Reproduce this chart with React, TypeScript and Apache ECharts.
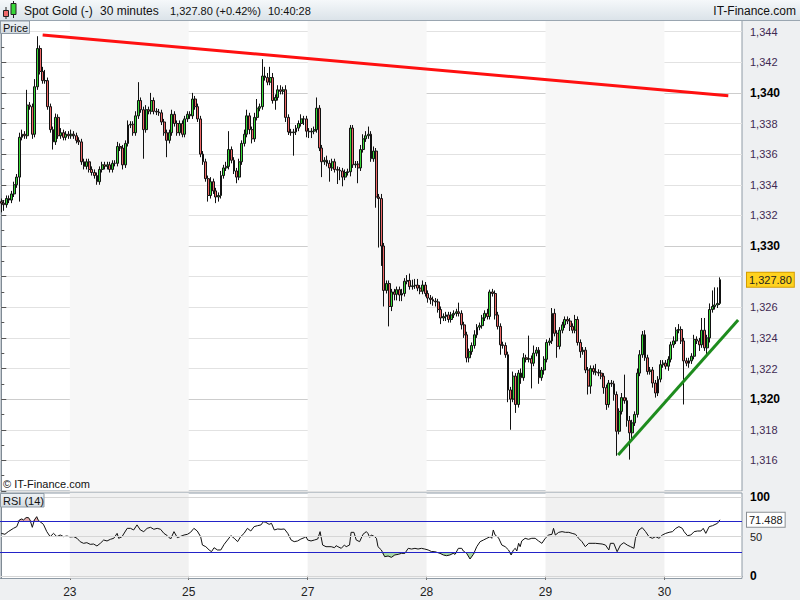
import React, { useEffect, useRef } from 'react';
import * as echarts from 'echarts';

// ---- price data (30-minute candles) ----
const firstOpen = 1332.9;
const closes = [
  1332.8,1332.7,1333.1,1333.0,1333.4,1334.0,1334.5,1337.1,1337.3,1337.2,
  1339.2,1339.1,1337.3,1340.4,1342.9,1341.4,1340.8,1340.8,1339.1,1337.6,
  1336.8,1338.4,1337.2,1337.4,1337.1,1337.3,1337.2,1337.3,1337.2,1336.9,
  1336.8,1335.5,1335.2,1335.5,1335.0,1334.8,1334.6,1334.2,1335.0,1335.3,
  1335.2,1335.3,1335.0,1335.4,1335.4,1336.5,1336.4,1335.3,1336.7,1337.9,
  1337.95,1337.4,1338.5,1339.5,1338.9,1337.6,1338.9,1338.8,1339.5,1338.8,
  1338.75,1338.7,1338.1,1337.4,1336.9,1337.4,1338.6,1338.0,1337.4,1338.0,
  1337.3,1338.3,1338.6,1338.5,1339.6,1339.1,1338.3,1336.0,1335.5,1334.4,
  1333.3,1334.2,1333.6,1333.2,1333.3,1334.6,1335.1,1335.2,1336.3,1335.6,
  1334.9,1334.5,1335.5,1336.7,1337.3,1338.5,1337.6,1337.0,1338.4,1339.0,
  1339.1,1341.1,1341.0,1340.7,1341.0,1339.5,1339.7,1340.2,1340.1,1340.2,
  1338.4,1337.45,1337.4,1337.45,1337.7,1338.0,1338.3,1338.3,1337.5,1337.45,
  1337.5,1337.6,1339.0,1336.4,1335.5,1335.6,1335.4,1335.1,1335.5,1335.0,
  1334.95,1334.9,1334.5,1334.8,1334.85,1337.7,1335.3,1335.35,1335.1,1336.3,
  1337.0,1337.2,1337.3,1335.7,1336.2,1333.2,1333.1,1330.0,1327.1,1327.55,
  1326.05,1327.0,1326.85,1327.15,1326.8,1326.9,1327.7,1327.75,1327.35,1327.4,
  1327.45,1327.25,1327.05,1327.45,1326.9,1326.6,1326.5,1326.4,1326.35,1325.85,
  1325.3,1325.4,1325.5,1325.2,1325.5,1325.6,1325.7,1325.6,1324.85,1324.2,
  1322.7,1323.1,1323.5,1324.2,1324.7,1324.8,1325.3,1325.6,1325.4,1327.0,
  1326.9,1325.5,1324.75,1323.55,1323.5,1322.9,1320.6,1320.0,1321.5,1319.65,
  1321.7,1321.4,1322.7,1322.6,1322.65,1322.35,1323.0,1323.2,1321.4,1321.9,
  1322.6,1323.7,1323.8,1325.6,1324.3,1323.45,1324.5,1324.85,1325.2,1325.1,
  1324.75,1324.5,1325.2,1323.7,1323.1,1323.2,1321.9,1320.85,1322.0,1321.8,
  1321.75,1321.7,1321.5,1320.75,1319.65,1321.05,1321.0,1320.3,1317.9,1319.2,
  1320.1,1319.9,1318.6,1317.8,1318.45,1319.0,1321.7,1322.9,1324.2,1322.7,
  1321.8,1321.9,1321.05,1320.4,1321.3,1322.25,1322.35,1322.15,1322.6,1323.55,
  1323.8,1324.5,1324.55,1323.8,1322.5,1322.35,1322.5,1322.8,1323.9,1323.8,
  1323.55,1324.5,1323.35,1324.0,1325.85,1326.05,1326.15,1326.25,1327.8,
];
// wick lengths above / below the body (in dollars)
const upperWick = [
  0.2,0.2,0.2,0.2,0.2,0.2,0.2,0.3,0.3,0.2,
  1.0,0.2,0.2,0.5,0.8,0.2,0.3,0.7,0.2,0.2,
  0.2,0.25,0.2,0.3,0.2,0.2,0.2,0.3,0.2,0.2,
  0.2,0.2,0.2,0.2,0.2,0.2,0.2,0.2,0.2,0.2,
  0.2,0.2,0.2,0.2,0.2,0.3,0.2,0.2,0.2,0.3,
  0.2,0.2,0.3,1.2,0.2,0.2,0.3,0.2,0.5,0.2,
  0.2,0.2,0.2,0.2,0.2,0.2,0.3,0.2,0.2,0.2,
  0.2,0.2,0.2,0.2,0.4,0.2,0.2,0.2,0.2,0.2,
  0.2,0.3,0.2,0.2,0.2,0.3,0.2,0.3,1.2,0.2,
  0.2,0.2,0.2,0.2,0.3,0.4,0.2,0.2,0.3,0.6,
  0.2,1.1,0.6,0.3,0.7,0.3,0.2,0.3,0.3,0.2,
  0.3,0.2,0.2,0.2,0.2,0.2,0.3,0.2,0.2,0.2,
  0.2,0.2,0.7,0.2,0.2,0.2,0.3,0.2,0.2,0.2,
  0.2,0.2,0.2,0.2,0.2,0.2,0.2,0.2,0.2,0.3,
  0.3,0.3,0.5,0.2,0.3,0.2,0.2,0.3,0.2,0.2,
  0.2,0.2,0.2,0.2,0.2,0.3,0.2,0.35,0.45,0.4,
  0.4,0.4,0.2,0.3,0.2,0.2,0.2,0.2,0.2,0.2,
  0.2,0.2,0.2,0.2,0.2,0.2,0.2,0.6,0.2,0.2,
  0.2,0.2,0.2,0.3,0.2,0.2,0.2,0.2,0.3,0.15,
  0.2,0.2,0.2,0.2,0.2,0.2,0.2,0.2,0.3,0.2,
  0.2,0.3,0.3,0.2,1.5,0.2,0.5,0.2,0.2,0.2,
  0.2,0.2,0.2,0.35,0.3,0.2,0.2,0.2,0.2,0.2,
  0.2,0.2,0.3,0.2,0.2,0.2,0.2,0.2,0.2,0.2,
  0.5,0.2,0.2,0.2,0.2,0.2,0.2,0.2,0.2,0.2,
  0.3,1.5,0.2,0.3,0.2,0.2,0.3,0.3,0.25,0.3,
  0.2,0.2,0.2,0.2,0.2,0.3,0.2,0.2,0.2,0.2,
  0.3,0.2,0.35,0.2,0.2,0.2,0.2,0.2,0.3,0.2,
  0.2,0.8,0.8,0.2,0.4,1.05,1.15,1.05,0.15,
];
const lowerWick = [
  0.6,0.4,0.2,0.2,0.2,0.2,0.2,1.6,0.2,0.2,
  0.2,0.2,0.3,0.2,0.2,0.2,0.2,0.2,0.2,0.2,
  0.5,0.2,0.2,0.2,0.2,0.2,0.2,0.2,0.2,0.2,
  0.2,0.2,0.2,0.2,0.2,0.2,0.2,0.2,0.2,0.2,
  0.2,0.2,0.2,0.2,0.2,0.2,0.2,0.3,0.2,0.2,
  0.2,0.2,0.2,0.2,0.2,1.9,0.2,0.2,0.2,0.2,
  0.2,0.2,0.2,0.2,1.1,0.2,0.2,0.2,0.2,0.2,
  0.2,0.2,0.2,0.2,0.2,0.2,0.2,0.2,0.2,0.2,
  0.4,0.2,0.2,0.4,0.3,0.2,0.2,0.2,0.2,0.2,
  0.2,0.4,0.2,0.2,0.2,0.2,0.3,0.3,0.2,0.2,
  0.2,0.2,0.2,0.2,0.2,0.2,0.6,0.2,0.2,0.2,
  0.3,0.2,0.2,1.5,0.2,0.2,0.2,0.4,0.4,0.4,
  0.4,0.2,0.2,0.2,1.0,0.2,0.2,0.9,0.2,0.2,
  0.9,0.6,0.6,0.2,0.2,0.3,0.2,0.2,1.0,0.2,
  0.2,0.2,0.2,0.2,0.2,0.7,3.2,1.3,1.05,0.2,
  1.3,0.3,0.4,0.4,0.4,0.4,0.2,0.2,0.2,0.2,
  0.2,0.2,0.2,0.2,0.2,0.3,0.3,0.3,0.3,0.2,
  0.4,0.2,0.3,0.2,0.2,0.2,0.2,0.2,0.3,0.2,
  0.3,0.3,0.2,0.2,0.2,0.2,0.2,0.2,0.2,0.2,
  0.2,0.3,0.2,0.65,0.2,0.2,0.8,2.0,0.2,0.55,
  0.2,0.4,0.2,0.2,0.2,1.65,0.2,0.2,0.4,0.2,
  0.3,0.2,0.2,0.2,0.2,0.75,0.2,0.2,0.2,0.2,
  0.3,0.2,0.2,0.2,0.4,0.2,0.2,0.55,0.5,0.2,
  0.2,0.2,0.2,0.4,0.35,0.2,0.2,0.4,1.6,0.2,
  0.2,0.2,0.4,1.75,0.5,0.2,0.2,0.2,0.2,0.2,
  0.2,0.2,0.3,0.3,0.2,0.2,0.2,0.2,0.3,0.2,
  0.2,0.2,0.2,0.2,2.85,0.2,0.3,0.2,0.2,0.2,
  0.4,0.2,0.2,0.45,0.3,0.2,0.2,0.2,0.1,
];

// ---- RSI (14): candle position, value ----
const rsiAt = [
  0,1.4,2.7,4.7,6,7,7.9,8.6,9.6,10.5,
  11.1,12,12.8,13.7,14.4,15,16.3,17.6,18.9,20.2,
  21.5,22.8,24.1,25.4,26.7,28,29.3,30.5,31.8,33.1,
  34.4,35.7,37,38.3,39.6,40.9,42.2,43.5,44.8,45.4,
  46.7,48.7,50,51.2,52.5,53.8,55.1,56.4,57.7,59,
  60.3,61.6,62.9,64.2,65.5,66.8,68.1,69.4,70.7,72,
  73.2,74.5,75.8,77.1,77.8,79.1,80.4,81.3,82.3,83.6,
  84.9,86.2,87.5,88.8,90.1,91.4,92.6,93.9,95.2,96.5,
  97.8,99.1,100.4,101.4,102.3,103.6,104.5,105.6,106.9,108.2,
  109.5,110.8,112.1,113.3,114.6,115.9,117.2,117.9,118.5,119.8,
  121.1,122.4,123.3,124.3,125.6,127.6,128.9,129.5,130.2,131.5,
  132.7,133.4,134.7,135.3,136.4,137.3,138.6,139.9,141.2,141.8,
  142.5,143.1,144.4,145.1,145.7,147,148.3,149.6,150.9,152.2,
  153.5,154.8,156.1,157.4,158.7,160,161.2,162.5,163.8,165.1,
  166.4,167.7,169.7,171,172.2,173.5,174.8,175.5,176.8,178.1,
  178.7,180,181.3,182.6,183.9,185.2,186.5,187.8,189.1,189.7,
  190.3,191,192.3,193.6,194.9,196.2,197.2,198.1,198.8,199.4,
  200.1,200.7,201.3,202.6,203.9,205.2,206.5,207.8,209.1,210.4,
  211.7,213,213.6,214.3,215.6,216.9,218.2,219.5,220.8,222.1,
  223.3,224.6,225.9,227.2,228.5,229.8,232.4,233.7,235,235.6,
  236.9,238.2,239.5,240.8,242.1,243.4,244.7,245.3,246.6,247.9,
  249.2,250.5,251.8,253.1,254.4,255.7,257,258.3,259.6,260.9,
  262.1,263.4,264.1,265.4,266.7,268,269.3,270.6,271.5,272.5,
  273.8,275.1,277,278,
];
const rsiValues = [
  54.2,53,56.4,60.6,62.8,71.3,72.6,71.3,74.3,74.3,
  71.3,61.9,71.3,75.5,70.4,69.1,65.7,56.4,50,54.2,
  50,52.1,50,50.8,49.6,50,47.9,43.6,41.5,42.3,
  40.2,40.6,38.1,41.5,45.7,44.5,46.6,47.9,54.2,47.9,
  50,60.6,60.6,58.5,65,58.5,56.4,60.6,61.9,59.4,
  60.6,59.4,54.2,51.3,47,56.4,48.7,50.4,52.1,53,
  55.5,60.6,57.2,50,39.3,37.2,33,30.8,35.9,33,
  33,40.2,45.7,51.3,47.9,43.6,50,54.2,60.6,57.2,
  62.8,64,64.9,69.1,68.3,65.7,67,58.5,59.8,59.4,
  59.8,54.2,45.7,43.6,44.5,47,48.7,50,45.7,44.5,
  45.7,47,56.4,39.3,37.2,37.2,35.9,38.5,37.2,35.1,
  39.3,37.2,39.3,55.5,55.5,45.7,43.6,53,56.4,54.2,
  49.1,52.1,50,47.9,37.2,33,24.4,25.3,23.6,26.6,
  27.4,28.7,28.7,35.1,34.2,35.1,34.2,35.1,34.2,33,
  31,30.8,28.7,26.6,25.7,26.6,28.7,27.4,35.1,35.1,
  31.7,28.7,21.5,27.4,37.2,43.6,45.7,47.9,50,47.9,
  58.5,52.1,48.7,39.3,37.2,33,26.6,33,35.1,31.7,
  41.5,37.2,44.5,47.9,46.6,47.9,47.9,44.5,41.5,47.9,
  52.1,53,60.6,52.1,55.5,56.4,55.5,55.5,54.2,53,
  47.9,43.6,37.2,41.5,41.5,41.5,40.6,39.3,33,41.5,
  41.5,30.8,39.3,42.3,39.3,37.2,35.1,47.9,58.5,61.5,
  56.4,50,47.9,50,47.9,52.1,54.2,55.5,56.4,60.6,
  62.8,60.6,56.4,51.3,52.1,56.4,57.2,57.2,60.6,54.2,
  62.8,64,67,71.488,
];
const rsiLevels = [30, 70];
const rsiGridValues = [0, 50, 100];

// ---- session starts (candle index) and their day labels ----
const dayStarts = [27, 73, 119, 165, 211, 257];
const dayLabels = ['23', '25', '27', '28', '29', '30'];

// ---- trend lines drawn on the chart: [candle position, price] ----
const redTrend = [[16.0, 1343.78], [281.2, 1339.81]];
const greenTrend = [[238.6, 1316.35], [285.0, 1325.16]];

const title = 'Spot Gold (-)';
const period = '30 minutes';
const changePct = '+0.42%';
const clock = '10:40:28';

const SLOTS = 287;
const FONT = '"Liberation Sans", Arial, sans-serif';

const fmt = (v: number, d = 0) =>
  v.toLocaleString('en-US', { minimumFractionDigits: d, maximumFractionDigits: d });
const r2 = (v: number) => Math.round(v * 100) / 100;

function buildOption() {
  const candles = closes.map((c, i) => {
    const o = i === 0 ? firstOpen : closes[i - 1];
    const hi = Math.max(o, c) + upperWick[i];
    const lo = Math.min(o, c) - lowerWick[i];
    return [r2(o), r2(c), r2(lo), r2(hi)];
  });
  const categories = Array.from({ length: SLOTS }, (_, i) => String(i));
  const rsiPairs = rsiAt.map((x, k) => [x, rsiValues[k]]);
  const lowPairs = rsiAt.map((x, k) => [x, Math.min(rsiValues[k], rsiLevels[0])]);
  const highPairs = rsiAt.map((x, k) => [x, Math.max(rsiValues[k], rsiLevels[1])]);
  const boundaries = dayStarts.map((d) => d - 0.5);
  const bands: any[] = [];
  for (let k = 0; k + 1 < boundaries.length; k += 2) {
    bands.push([{ xAxis: boundaries[k] }, { xAxis: boundaries[k + 1] }]);
  }
  const last = closes[closes.length - 1];
  const lastRsi = rsiValues[rsiValues.length - 1];
  const dayFormatter = (v: number) => {
    const k = boundaries.findIndex((b) => Math.abs(b - v) < 0.01);
    return k >= 0 ? dayLabels[k] : '';
  };

  const headerGrad = new echarts.graphic.LinearGradient(0, 0, 0, 1, [
    { offset: 0, color: '#f5f8fa' },
    { offset: 1, color: '#dbe3e9' },
  ]);
  const boxGrad = new echarts.graphic.LinearGradient(0, 0, 0, 1, [
    { offset: 0, color: '#eef2f5' },
    { offset: 1, color: '#d2dae1' },
  ]);
  const txt = (text: string, x: number, y: number, size = 12, align = 'left', weight = 'normal') => ({
    type: 'text',
    x,
    y,
    z: 102,
    silent: true,
    style: { text, fill: '#111', fontSize: size, fontFamily: FONT, fontWeight: weight, align, verticalAlign: 'middle' },
  });
  const hiddenLine = { color: 'rgba(0,0,0,0)', width: 0 };

  return {
    animation: false,
    backgroundColor: '#eef0f2',
    textStyle: { fontFamily: FONT },
    grid: [
      { left: 0, top: 20, width: 742, height: 471, show: true, backgroundColor: '#ffffff', borderColor: '#8e9aa5', borderWidth: 1 },
      { left: 0, top: 493, width: 742, height: 85.5, show: true, backgroundColor: '#ffffff', borderColor: '#8e9aa5', borderWidth: 1 },
    ],
    xAxis: [
      { type: 'category', gridIndex: 0, data: categories, boundaryGap: true, show: false },
      { type: 'value', gridIndex: 0, min: -0.5, max: SLOTS - 0.5, show: false },
      {
        type: 'value', gridIndex: 1, min: -0.5, max: SLOTS - 0.5, position: 'bottom',
        axisLine: { show: true, lineStyle: { color: '#7f8a94' } },
        axisTick: { show: true, customValues: boundaries, length: 4, lineStyle: { color: '#555' } },
        axisLabel: { customValues: boundaries, formatter: dayFormatter, margin: 7, fontSize: 12, color: '#222', fontFamily: FONT },
        splitLine: { show: false },
      },
    ],
    yAxis: [
      {
        type: 'value', gridIndex: 0, position: 'right', min: 1314, max: 1344.76, interval: 2,
        axisLine: { show: true, lineStyle: { color: '#7f8a94' } },
        axisTick: { show: true, length: 5, lineStyle: { color: '#555' } },
        minorTick: { show: true, splitNumber: 2, length: 3, lineStyle: { color: '#555' } },
        axisLabel: {
          margin: 8, showMaxLabel: false, showMinLabel: false,
          formatter: (v: number) => {
            if (Math.abs(v - Math.round(v)) > 1e-6) return '';
            const r = Math.round(v);
            // the last-price box covers the tick label next to it
            if (Math.abs(r - last) < 1) return '';
            return r % 10 === 0 ? `{b|${fmt(r)}}` : `{n|${fmt(r)}}`;
          },
          rich: {
            n: { fontSize: 11, color: '#3f2a52', fontFamily: FONT },
            b: { fontSize: 12, color: '#000', fontWeight: 'bold', fontFamily: FONT },
          },
        },
        splitLine: { show: true, lineStyle: { color: ['#e2e2e2', '#e2e2e2', '#e2e2e2', '#cdcdcd', '#e2e2e2'], width: 1 } },
      },
      {
        type: 'value', gridIndex: 1, position: 'right', min: -3.4, max: 105.7,
        axisLine: { show: true, lineStyle: { color: '#7f8a94' } },
        axisTick: { show: true, customValues: rsiGridValues, length: 5, lineStyle: { color: '#555' } },
        axisLabel: {
          customValues: rsiGridValues, margin: 8,
          formatter: (v: number) => (v === 50 ? `{n|50}` : `{b|${v}}`),
          rich: {
            n: { fontSize: 11, color: '#222', fontFamily: FONT },
            b: { fontSize: 12, color: '#000', fontWeight: 'bold', fontFamily: FONT },
          },
        },
        splitLine: { show: false },
      },
    ],
    series: [
      {
        type: 'line', xAxisIndex: 1, yAxisIndex: 0, data: [], z: 1, silent: true,
        markArea: { silent: true, itemStyle: { color: '#f7f7f7' }, data: bands },
      },
      {
        type: 'line', xAxisIndex: 2, yAxisIndex: 1, data: [], z: 1, silent: true,
        markArea: { silent: true, itemStyle: { color: '#f1f1f1' }, data: bands },
      },
      {
        type: 'candlestick', xAxisIndex: 0, yAxisIndex: 0, data: candles, barWidth: 2.4, z: 3,
        itemStyle: { color: '#38d838', color0: '#ee6868', borderColor: '#111', borderColor0: '#111', borderWidth: 1 },
        markLine: {
          silent: true, symbol: 'none', animation: false,
          lineStyle: hiddenLine,
          label: {
            show: true, position: 'end', distance: 5, formatter: () => fmt(last, 2),
            backgroundColor: '#ffd21f', borderColor: '#d49c00', borderWidth: 1,
            padding: [2, 2, 1, 2], color: '#222', fontSize: 11, fontFamily: FONT,
          },
          data: [{ yAxis: last }],
        },
      },
      {
        type: 'line', xAxisIndex: 1, yAxisIndex: 0, data: redTrend, z: 4, symbol: 'none', silent: true,
        lineStyle: { color: '#ff1010', width: 3 },
      },
      {
        type: 'line', xAxisIndex: 1, yAxisIndex: 0, data: greenTrend, z: 4, symbol: 'none', silent: true,
        lineStyle: { color: '#1e8c1e', width: 3 },
      },
      {
        type: 'line', xAxisIndex: 2, yAxisIndex: 1, data: lowPairs, z: 2, symbol: 'none', showSymbol: false, silent: true,
        lineStyle: hiddenLine,
        areaStyle: { origin: rsiLevels[0], color: '#a8d6a8', opacity: 1 },
      },
      {
        type: 'line', xAxisIndex: 2, yAxisIndex: 1, data: highPairs, z: 2, symbol: 'none', showSymbol: false, silent: true,
        lineStyle: hiddenLine,
        areaStyle: { origin: rsiLevels[1], color: '#e2aaaa', opacity: 1 },
      },
      {
        type: 'line', xAxisIndex: 2, yAxisIndex: 1, data: rsiPairs, z: 4, symbol: 'none', silent: true,
        lineStyle: { color: '#111', width: 1 },
        markLine: {
          silent: true, symbol: 'none', animation: false,
          label: { show: false },
          data: [
            ...rsiGridValues.map((v) => ({ yAxis: v, lineStyle: { color: '#d6d6d6', width: 1, type: 'solid' } })),
            ...rsiLevels.map((v) => ({ yAxis: v, lineStyle: { color: '#2323c8', width: 1, type: 'solid' } })),
          ],
        },
      },
      {
        type: 'line', xAxisIndex: 2, yAxisIndex: 1, data: [], z: 5, silent: true,
        markLine: {
          silent: true, symbol: 'none', animation: false,
          lineStyle: hiddenLine,
          label: {
            show: true, position: 'end', distance: 5, formatter: () => String(lastRsi),
            backgroundColor: '#ffffff', borderColor: '#8a8f94', borderWidth: 1,
            padding: [2, 2, 1, 2], color: '#222', fontSize: 11, fontFamily: FONT,
          },
          data: [{ yAxis: lastRsi }],
        },
      },
    ],
    graphic: [
      { type: 'rect', z: 100, silent: true, shape: { x: 0, y: 0, width: 800, height: 20 }, style: { fill: headerGrad } },
      { type: 'line', z: 101, silent: true, shape: { x1: 0, y1: 20.5, x2: 800, y2: 20.5 }, style: { stroke: '#9aa6b1', lineWidth: 1 } },
      { type: 'line', z: 101, silent: true, shape: { x1: 6, y1: 7, x2: 6, y2: 19 }, style: { stroke: '#222', lineWidth: 1 } },
      { type: 'rect', z: 102, silent: true, shape: { x: 3.5, y: 10.5, width: 5, height: 6 }, style: { fill: '#ee6868', stroke: '#222', lineWidth: 1 } },
      { type: 'line', z: 101, silent: true, shape: { x1: 13.5, y1: 1, x2: 13.5, y2: 18 }, style: { stroke: '#222', lineWidth: 1 } },
      { type: 'rect', z: 102, silent: true, shape: { x: 11, y: 3.5, width: 5, height: 11 }, style: { fill: '#38d838', stroke: '#222', lineWidth: 1 } },
      txt(title, 24, 11),
      txt(period, 100, 11),
      txt(`${fmt(last, 2)} (${changePct})`, 170, 11, 11),
      txt(clock, 268, 11, 11),
      txt('IT-Finance.com', 796, 11, 12, 'right'),
      { type: 'rect', z: 101, silent: true, shape: { x: 0.5, y: 21, width: 29, height: 12.5 }, style: { fill: boxGrad, stroke: '#8e9aa5', lineWidth: 1 } },
      txt('Price', 3, 27.5, 11),
      { type: 'rect', z: 101, silent: true, shape: { x: 0.5, y: 493.5, width: 43.5, height: 13.5 }, style: { fill: boxGrad, stroke: '#8e9aa5', lineWidth: 1 } },
      txt('RSI (14)', 3, 500.5, 11),
      txt('\u00a9 IT-Finance.com', 3, 484, 11),
    ],
  };
}

export default function App() {
  const ref = useRef<HTMLDivElement>(null);
  useEffect(() => {
    if (!ref.current) return;
    const chart = echarts.init(ref.current, null, { renderer: 'svg' });
    chart.setOption(buildOption() as any);
    return () => chart.dispose();
  }, []);
  return <div ref={ref} style={{ position: 'fixed', left: 0, top: 0, width: 800, height: 600 }} />;
}
